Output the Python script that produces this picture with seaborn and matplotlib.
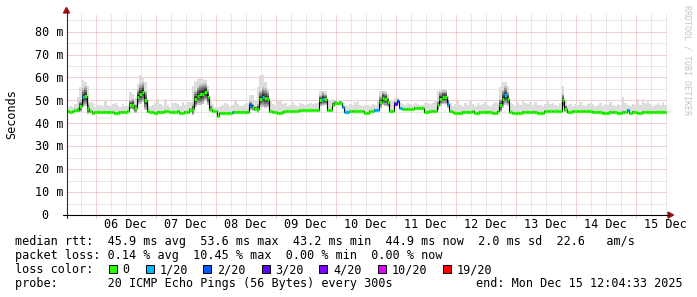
import numpy as np
import pandas as pd
import matplotlib
matplotlib.use("Agg")
import matplotlib.pyplot as plt
from matplotlib.lines import Line2D
from matplotlib.patches import Rectangle, Polygon
import seaborn as sns

# ---------------- data ----------------
day_labels = ["06 Dec", "07 Dec", "08 Dec", "09 Dec", "10 Dec",
              "11 Dec", "12 Dec", "13 Dec", "14 Dec", "15 Dec"]
label_hours = [36, 60, 84, 108, 132, 156, 180, 204, 228, 252]   # noon of each day (h since Dec 5 00:00)
y_ticks = [0, 10, 20, 30, 40, 50, 60, 70, 80]
start_hour = 12.5   # first hourly sample, hours since Dec 5 00:00

# median rtt (ms), hourly, one row per day
median_ms = [
    45.2, 45.0, 45.2, 45.6, 45.8, 47.5, 51.3, 52.0, 46.6, 45.2, 44.6, 44.8, 45.0, 45.0, 44.9, 45.0, 45.0, 45.0, 44.8, 44.6, 44.7, 45.0, 45.0, 45.0,
    45.2, 48.1, 48.1, 46.5, 51.5, 52.9, 53.6, 50.0, 45.3, 45.0, 45.0, 44.6, 45.0, 45.0, 45.0, 45.2, 45.2, 45.0, 45.0, 45.0, 45.2, 44.6, 44.6, 45.0,
    45.0, 45.8, 46.2, 50.7, 52.0, 52.6, 53.0, 53.6, 51.5, 46.4, 45.2, 45.2, 43.2, 44.5, 44.5, 44.5, 44.5, 44.6, 44.9, 45.0, 45.0, 45.0, 45.0, 45.0,
    45.0, 47.8, 47.0, 46.4, 46.4, 50.7, 51.5, 51.0, 50.5, 45.2, 45.0, 45.0, 44.6, 44.6, 45.0, 45.2, 45.2, 45.2, 45.2, 45.2, 45.2, 45.6, 45.6, 45.6,
    45.6, 45.7, 45.7, 45.7, 45.7, 50.0, 50.7, 50.5, 45.7, 45.7, 48.1, 48.8, 48.8, 48.8, 47.1, 44.9, 44.9, 45.2, 45.2, 45.2, 45.2, 45.2, 45.2, 44.6,
    44.6, 45.2, 45.2, 45.9, 45.9, 49.3, 51.0, 50.6, 49.3, 45.2, 45.2, 48.6, 49.6, 46.7, 46.4, 46.4, 46.4, 46.4, 46.4, 46.9, 46.9, 46.9, 46.9, 45.0,
    45.0, 45.2, 45.2, 45.2, 47.8, 50.7, 51.4, 51.4, 48.6, 45.2, 45.0, 44.5, 44.5, 44.5, 45.0, 45.0, 45.0, 45.0, 45.2, 44.5, 44.5, 45.0, 45.0, 45.0,
    45.0, 45.0, 44.5, 44.5, 45.2, 47.8, 50.7, 52.2, 50.7, 45.0, 44.5, 44.5, 44.5, 44.5, 45.0, 45.0, 45.0, 45.0, 45.0, 45.0, 44.5, 44.5, 44.5, 45.2,
    45.2, 45.2, 45.2, 45.2, 45.2, 45.2, 50.0, 46.4, 44.8, 44.8, 45.2, 45.2, 45.2, 45.2, 45.2, 45.2, 45.2, 45.2, 45.0, 45.0, 45.0, 45.0, 44.5, 44.5,
    44.5, 45.0, 45.0, 45.0, 44.5, 44.5, 45.0, 45.0, 45.9, 44.5, 45.0, 45.0, 44.5, 44.5, 45.0, 45.0, 45.0, 45.0, 45.0, 45.0, 45.0, 45.0, 45.0, 44.9,
]

# top of the smoke (slowest ping), ms, hourly
smoke_max_ms = [
    47.0, 47.5, 47.0, 48.5, 51.4, 56.0, 58.7, 58.0, 56.5, 49.3, 48.7, 47.1, 48.0, 48.0, 47.5, 50.0, 48.0, 47.5, 48.5, 49.0, 48.0, 47.0, 48.5, 47.5,
    47.5, 53.6, 53.0, 51.0, 57.0, 60.9, 60.0, 58.0, 48.8, 47.5, 48.0, 49.0, 50.7, 48.5, 47.5, 50.5, 48.0, 47.0, 48.8, 49.0, 48.5, 47.5, 49.5, 48.0,
    49.3, 49.3, 56.5, 58.5, 59.4, 60.0, 59.4, 59.0, 56.5, 50.0, 48.5, 47.0, 47.0, 47.5, 48.0, 49.0, 48.5, 47.5, 48.0, 49.8, 48.5, 47.5, 48.0, 48.5,
    49.0, 52.2, 52.2, 50.0, 56.0, 60.9, 60.9, 58.0, 55.0, 50.0, 48.5, 48.0, 50.0, 50.0, 48.5, 49.0, 47.5, 48.0, 49.5, 48.0, 47.5, 49.0, 48.5, 48.0,
    48.5, 49.0, 48.5, 49.0, 49.0, 54.3, 54.3, 54.0, 50.0, 50.0, 50.5, 50.0, 49.5, 50.0, 49.0, 48.0, 47.5, 48.5, 48.0, 49.5, 50.0, 48.0, 47.5, 48.0,
    48.0, 47.5, 48.5, 48.0, 50.0, 54.3, 54.3, 54.3, 53.0, 50.0, 50.0, 51.0, 51.0, 49.0, 48.5, 48.0, 49.0, 48.5, 48.0, 49.0, 48.5, 48.0, 48.0, 49.0,
    49.0, 48.5, 49.0, 50.0, 54.0, 55.0, 55.0, 54.5, 52.0, 49.0, 47.5, 48.5, 50.0, 48.0, 47.5, 49.0, 48.0, 50.0, 48.5, 47.5, 49.0, 48.0, 48.5, 49.5,
    48.0, 47.5, 48.5, 49.5, 49.0, 56.0, 58.0, 58.0, 56.5, 49.0, 48.5, 47.5, 49.5, 48.0, 50.0, 49.0, 48.5, 49.5, 48.0, 49.5, 48.0, 48.0, 47.5, 48.5,
    50.0, 48.5, 49.0, 48.0, 47.5, 49.0, 56.2, 50.0, 48.0, 48.5, 47.5, 48.5, 48.0, 49.5, 48.0, 47.5, 48.5, 49.0, 48.5, 47.5, 48.0, 49.0, 47.5, 48.5,
    48.0, 49.5, 48.0, 47.5, 48.5, 48.0, 51.4, 49.0, 48.0, 47.5, 48.5, 48.0, 50.5, 48.0, 50.7, 49.0, 50.0, 48.5, 47.5, 48.0, 49.0, 48.0, 49.5, 48.0,
]

# half-width of the dense (dark) part of the smoke, ms, hourly
smoke_core_ms = [
    0.4, 0.4, 0.4, 0.4, 1.0, 2.5, 4.0, 4.5, 2.5, 0.6, 0.4, 0.4, 0.4, 0.4, 0.4, 0.4, 0.4, 0.4, 0.4, 0.4, 0.4, 0.4, 0.4, 0.4,
    0.4, 2.0, 2.5, 2.0, 3.5, 4.5, 4.5, 4.0, 1.0, 0.4, 0.4, 0.4, 0.4, 0.4, 0.4, 0.4, 0.4, 0.4, 0.4, 0.4, 0.4, 0.4, 0.4, 0.4,
    0.5, 1.0, 2.5, 3.5, 4.0, 4.5, 4.5, 4.0, 3.5, 1.5, 0.4, 0.4, 0.4, 0.4, 0.4, 0.4, 0.4, 0.4, 0.4, 0.4, 0.4, 0.4, 0.4, 0.4,
    0.4, 2.0, 1.5, 1.0, 2.0, 3.5, 4.5, 4.5, 3.5, 0.8, 0.4, 0.4, 0.4, 0.4, 0.4, 0.4, 0.4, 0.4, 0.4, 0.4, 0.4, 0.4, 0.4, 0.4,
    0.4, 0.4, 0.4, 0.4, 0.4, 2.5, 3.0, 2.5, 0.6, 0.6, 1.0, 1.0, 1.0, 1.0, 0.6, 0.4, 0.4, 0.4, 0.4, 0.4, 0.4, 0.4, 0.4, 0.4,
    0.4, 0.4, 0.4, 0.4, 0.4, 2.5, 3.0, 3.0, 2.0, 0.6, 0.6, 1.0, 1.0, 0.6, 0.4, 0.4, 0.4, 0.4, 0.4, 0.4, 0.4, 0.4, 0.4, 0.4,
    0.4, 0.4, 0.4, 0.4, 2.0, 3.0, 3.0, 3.0, 2.0, 0.6, 0.4, 0.4, 0.4, 0.4, 0.4, 0.4, 0.4, 0.4, 0.4, 0.4, 0.4, 0.4, 0.4, 0.4,
    0.4, 0.4, 0.4, 0.4, 0.4, 3.0, 4.0, 4.0, 3.0, 0.6, 0.4, 0.4, 0.4, 0.4, 0.4, 0.4, 0.4, 0.4, 0.4, 0.4, 0.4, 0.4, 0.4, 0.4,
    0.4, 0.4, 0.4, 0.4, 0.4, 0.4, 3.0, 1.5, 0.4, 0.4, 0.4, 0.4, 0.4, 0.4, 0.4, 0.4, 0.4, 0.4, 0.4, 0.4, 0.4, 0.4, 0.4, 0.4,
    0.4, 0.4, 0.4, 0.4, 0.4, 0.4, 0.4, 0.4, 0.4, 0.4, 0.4, 0.4, 0.4, 0.4, 0.4, 0.4, 0.4, 0.4, 0.4, 0.4, 0.4, 0.4, 0.4, 0.4,
]

# hours (sample index) with packet loss and the number of lost pings out of 20
loss_hours = [6, 66, 73, 78, 102, 110, 111, 112, 123, 124, 131, 132, 133, 152, 175, 224]
loss_counts = [1, 1, 2, 1, 1, 1, 1, 1, 1, 1, 3, 2, 1, 1, 1, 1]

loss_levels = [0, 1, 2, 3, 4, 10, 19]
loss_labels = ["0", "1/20", "2/20", "3/20", "4/20", "10/20", "19/20"]
loss_colors = ["#26ff00", "#00b8ff", "#0059ff", "#5e00ff", "#7e00ff", "#dd00ff", "#ff0000"]

legend_rows = [
    "median rtt:  45.9 ms avg  53.6 ms max  43.2 ms min  44.9 ms now  2.0 ms sd  22.6   am/s",
    "packet loss: 0.14 % avg  10.45 % max  0.00 % min  0.00 % now",
    "loss color:",
    "probe:       20 ICMP Echo Pings (56 Bytes) every 300s",
]
end_text = "end: Mon Dec 15 12:04:33 2025"

# ---------------- figure ----------------
sns.set_theme(style="white")
plt.rcParams['font.family'] = ['DejaVu Sans Mono', 'DejaVu Sans']
W, H = 697, 297
FS = 8.5


def fx(px):
    return px / W


def fy(py):
    return 1 - py / H


fig = plt.figure(figsize=(W / 100, H / 100), dpi=100)
fig.patch.set_facecolor("white")
ax = fig.add_axes([fx(66.5), fy(215), 600 / W, 201 / H])
XMIN, XMAX, YMAX = 12.4, 252.4, 87.7
ax.set_xlim(XMIN, XMAX)
ax.set_ylim(0, YMAX)
ax.set_axis_off()

n = len(median_ms)
t = start_hour + np.arange(n)
med = np.array(median_ms)
smax = np.array(smoke_max_ms)
core = np.array(smoke_core_ms)
loss = np.zeros(n, dtype=int)
for h, c in zip(loss_hours, loss_counts):
    loss[h] = c

# step edges (post)
t_e = np.append(t, t[-1] + 1)
med_e = np.append(med, med[-1])
smax_e = np.append(smax, smax[-1])
core_e = np.append(core, core[-1])

# grid (fine dotted)
dot = (0, (1, 1))
minor_c, major_c = "#d2d2d2", "#e6a2a2"
for v in range(5, 90, 5):
    if v > YMAX:
        continue
    ax.axhline(v, color=major_c if v % 10 == 0 else minor_c, lw=0.72, ls=dot, zorder=0)
for hr in range(18, 253, 6):
    if hr < XMIN or hr > XMAX:
        continue
    if hr % 24 == 0:
        ln = Line2D([hr, hr], [-3 / 201, 1], transform=ax.get_xaxis_transform(),
                    color=major_c, lw=0.72, ls=dot, clip_on=False, zorder=0)
        ax.add_line(ln)
    else:
        ax.axvline(hr, color=minor_c, lw=0.72, ls=dot, zorder=0)

# smoke
ax.fill_between(t_e, med_e - 0.4, smax_e, step="post", color="#dddddd", lw=0, zorder=1)
for f, col in [(1.0, "#c4c4c4"), (0.8, "#9c9c9c"), (0.6, "#747474"), (0.4, "#4a4a4a"), (0.2, "#222222")]:
    ax.fill_between(t_e, med_e - f * core_e, np.minimum(med_e + f * core_e, smax_e),
                    step="post", color=col, lw=0, zorder=1.1)

# median line
df = pd.DataFrame({"t": t_e, "median": med_e})
sns.lineplot(data=df, x="t", y="median", drawstyle="steps-post", color="black",
             linewidth=0.8, ax=ax, estimator=None, sort=False, zorder=2)
seg_colors = [loss_colors[loss_levels.index(c)] for c in loss]
ax.hlines(med, t, t + 1, colors=seg_colors, lw=2.3, zorder=3)

# axes lines and arrows
fig.add_artist(Line2D([fx(66.5), fx(66.5)], [fy(217.5), fy(12)], color="#303030", lw=0.8))
fig.add_artist(Line2D([fx(63), fx(669)], [fy(215), fy(215)], color="black", lw=0.8))
fig.add_artist(Polygon([(fx(63.5), fy(13)), (fx(69.5), fy(13)), (fx(66.5), fy(7.5))],
                       closed=True, color="#9b1010", transform=fig.transFigure))
fig.add_artist(Polygon([(fx(668), fy(212)), (fx(668), fy(218)), (fx(673.5), fy(215))],
                       closed=True, color="#9b1010", transform=fig.transFigure))

# y tick labels
for v in y_ticks:
    py = 215 - v * 201 / YMAX
    if v == 0:
        fig.text(fx(41.3), fy(py + 4.2), "0", fontsize=FS, ha="left", va="baseline", color="black")
    else:
        fig.text(fx(35.3), fy(py + 4.2), f"{v} m", fontsize=FS, ha="left", va="baseline", color="black")

# x tick labels
for hr, lab in zip(label_hours, day_labels):
    px = 66.5 + (hr - XMIN) * 600 / (XMAX - XMIN)
    fig.text(fx(px), fy(228.5), lab, fontsize=FS, ha="center", va="baseline", color="black")

# y axis title
fig.text(fx(11.5), fy(114), "Seconds", fontsize=FS, rotation=90, ha="center", va="center", color="black")

# watermark
fig.text(fx(687), fy(5), "RRDTOOL / TOBI OETIKER", fontsize=6, rotation=270,
         ha="center", va="top", color="#c4c4c4")

# legend text
baselines = [245.5, 259.5, 273.3, 287.3]
for row, yb in zip(legend_rows, baselines):
    fig.text(fx(15.3), fy(yb), row, fontsize=FS, ha="left", va="baseline", color="black")
fig.text(fx(476.3), fy(287.3), end_text, fontsize=FS, ha="left", va="baseline", color="black")

box_x = [108.7, 146.0, 203.3, 261.7, 319.3, 377.7, 442.7]
lab_x = [123.3, 160.7, 218.3, 276.0, 334.0, 392.3, 457.0]
for bx, lx, col, lab in zip(box_x, lab_x, loss_colors, loss_labels):
    fig.add_artist(Rectangle((fx(bx), fy(273.3)), 8 / W, 8 / H, transform=fig.transFigure,
                             facecolor=col, edgecolor="black", lw=0.7))
    fig.text(fx(lx - 0.7), fy(273.3), lab, fontsize=FS, ha="left", va="baseline", color="black")

fig.savefig("out.png", dpi=100, facecolor="white")
